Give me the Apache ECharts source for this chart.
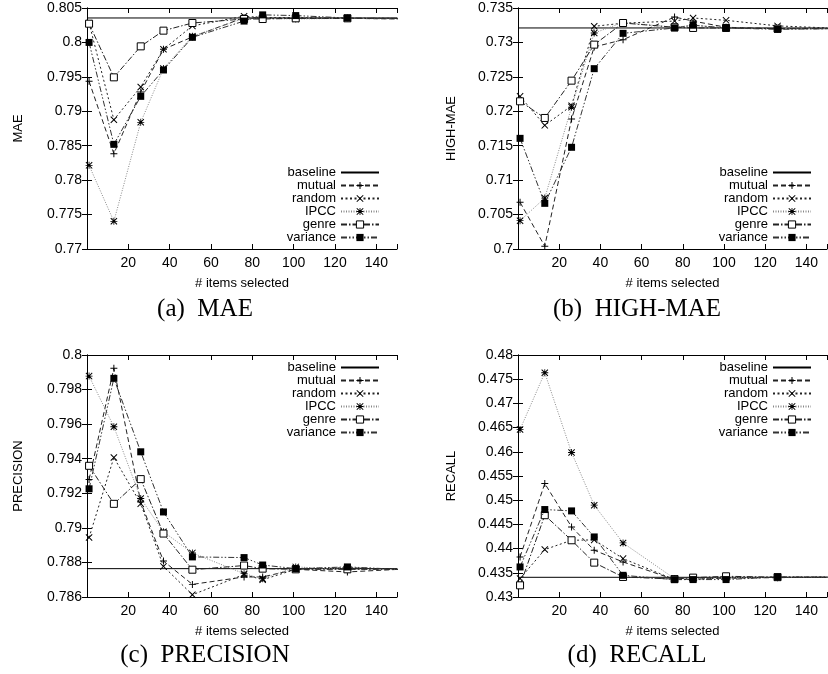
<!DOCTYPE html>
<html>
<head>
<meta charset="utf-8">
<script src="https://cdn.jsdelivr.net/npm/echarts@6/dist/echarts.min.js"></script>
<style>
  html, body { margin: 0; padding: 0; background: #fff; }
  #chart { width: 828px; height: 674px; }
</style>
</head>
<body>
<div id="chart"></div>
<script>
// # items selected (last point lies just past the visible range)
const itemsSelected = [1, 13, 26, 37, 51, 76, 85, 101, 126, 151]
const xTickLabels = [20, 40, 60, 80, 100, 120, 140]
const seriesNames = ['baseline', 'mutual', 'random', 'IPCC', 'genre', 'variance']

// (a) MAE
const maeRange = [0.77, 0.805, 0.005]
const maeBaseline = 0.80355
const maeMutual = [0.79435, 0.78384, 0.7928, 0.7990, 0.8008, 0.8036, 0.8035, 0.8035, 0.8035, 0.8034]
const maeRandom = [0.8028, 0.78878, 0.79353, 0.7990, 0.8024, 0.8038, 0.8036, 0.8036, 0.8035, 0.8035]
const maeIPCC = [0.78215, 0.77402, 0.7884, 0.7962, 0.8009, 0.8035, 0.8035, 0.8034, 0.8035, 0.8034]
const maeGenre = [0.80272, 0.79493, 0.79943, 0.80171, 0.80282, 0.8034, 0.8034, 0.8035, 0.8035, 0.8035]
const maeVariance = [0.8000, 0.7852, 0.79217, 0.7960, 0.80074, 0.8031, 0.8040, 0.8039, 0.80355, 0.8035]

// (b) HIGH-MAE
const highRange = [0.7, 0.735, 0.005]
const highBaseline = 0.7321
const highMutual = [0.70678, 0.7004, 0.71888, 0.72934, 0.7304, 0.73369, 0.7331, 0.7322, 0.7320, 0.7320]
const highRandom = [0.72217, 0.71796, 0.7208, 0.73234, 0.7328, 0.7331, 0.73355, 0.73321, 0.7324, 0.7321]
const highIPCC = [0.70411, 0.7074, 0.7206, 0.73137, 0.7329, 0.7322, 0.7325, 0.7321, 0.7320, 0.7320]
const highGenre = [0.72145, 0.71903, 0.72445, 0.72968, 0.73282, 0.7322, 0.7321, 0.7321, 0.7320, 0.7320]
const highVariance = [0.71607, 0.70663, 0.71477, 0.72619, 0.73132, 0.7321, 0.7325, 0.7321, 0.7319, 0.7320]

// (c) PRECISION
const precRange = [0.786, 0.8, 0.002]
const precBaseline = 0.78764
const precMutual = [0.7928, 0.79923, 0.7915, 0.78808, 0.78673, 0.78716, 0.78716, 0.7876, 0.78745, 0.7876]
const precRandom = [0.78944, 0.79407, 0.7914, 0.78777, 0.78613, 0.7873, 0.7870, 0.7876, 0.7877, 0.7876]
const precIPCC = [0.79878, 0.79585, 0.7917, 0.78977, 0.78855, 0.78735, 0.78706, 0.78774, 0.7876, 0.7876]
const precGenre = [0.79359, 0.79139, 0.79282, 0.78967, 0.78758, 0.78782, 0.78764, 0.7876, 0.7876, 0.7876]
const precVariance = [0.79226, 0.79865, 0.7944, 0.79092, 0.78832, 0.78828, 0.78785, 0.78764, 0.78774, 0.7876]

// (d) RECALL
const recRange = [0.43, 0.48, 0.005]
const recBaseline = 0.43407
const recMutual = [0.43828, 0.45345, 0.44448, 0.43966, 0.43724, 0.4336, 0.4337, 0.4339, 0.4340, 0.4341]
const recRandom = [0.4338, 0.4398, 0.44172, 0.4418, 0.43793, 0.4336, 0.4337, 0.4339, 0.4341, 0.4341]
const recIPCC = [0.46462, 0.47634, 0.45986, 0.44897, 0.44117, 0.4338, 0.4337, 0.4340, 0.4341, 0.4341]
const recGenre = [0.43241, 0.4469, 0.44172, 0.4371, 0.43414, 0.4337, 0.4340, 0.43428, 0.4341, 0.4341]
const recVariance = [0.43621, 0.44807, 0.44779, 0.44241, 0.43448, 0.43359, 0.4336, 0.4336, 0.43414, 0.4341]

const panels = [
  { name: 'MAE', caption: '(a)  MAE', range: maeRange, baseline: maeBaseline,
    values: [maeMutual, maeRandom, maeIPCC, maeGenre, maeVariance] },
  { name: 'HIGH-MAE', caption: '(b)  HIGH-MAE', range: highRange, baseline: highBaseline,
    values: [highMutual, highRandom, highIPCC, highGenre, highVariance] },
  { name: 'PRECISION', caption: '(c)  PRECISION', range: precRange, baseline: precBaseline,
    values: [precMutual, precRandom, precIPCC, precGenre, precVariance] },
  { name: 'RECALL', caption: '(d)  RECALL', range: recRange, baseline: recBaseline,
    values: [recMutual, recRandom, recIPCC, recGenre, recVariance] }
]

// layout of the four plot boxes
const boxes = [
  { left: 87, top: 8, width: 310, height: 241, legendRight: 448, legendTop: 166, capX: 205, capY: 309 },
  { left: 518, top: 8, width: 309, height: 241, legendRight: 16, legendTop: 166, capX: 637, capY: 309 },
  { left: 87, top: 355, width: 310, height: 242, legendRight: 448, legendTop: 361, capX: 205, capY: 655 },
  { left: 518, top: 355, width: 309, height: 242, legendRight: 16, legendTop: 361, capX: 637, capY: 655 }
]

const plusPath = 'path://M0,4.3H10V5.7H0Z M4.3,0H5.7V10H4.3Z'
const crossPath = 'path://M1,0L5,4L9,0L10,1L6,5L10,9L9,10L5,6L1,10L0,9L4,5L0,1Z'
const starPath = 'path://M0,4.4H10V5.6H0Z M4.4,0H5.6V10H4.4Z M1,0L5,4L9,0L10,1L6,5L10,9L9,10L5,6L1,10L0,9L4,5L0,1Z'

const styles = [
  { symbol: plusPath, item: { color: '#000' }, line: { color: '#222', width: 1, type: [5, 3] } },
  { symbol: crossPath, item: { color: '#000' }, line: { color: '#222', width: 1, type: [2, 2.5] } },
  { symbol: starPath, item: { color: '#000' }, line: { color: '#888', width: 1, type: [1, 1.5] } },
  { symbol: 'rect', item: { color: '#fff', borderColor: '#000', borderWidth: 1 }, line: { color: '#222', width: 1, type: [6, 2, 1.5, 2] } },
  { symbol: 'rect', item: { color: '#000' }, line: { color: '#333', width: 1, type: [6, 2, 1.5, 2, 1.5, 2] } }
]

const font = 'Liberation Sans, Arial, sans-serif'
const fmtY = v => String(+Number(v).toFixed(4))

const grid = [], xAxis = [], yAxis = [], series = [], legend = [], graphic = []

panels.forEach((p, i) => {
  const b = boxes[i]
  grid.push({ left: b.left, top: b.top, width: b.width, height: b.height,
    containLabel: false, outerBoundsMode: 'none', show: false })

  const tick = { show: true, inside: true, length: 5, lineStyle: { color: '#000' } }
  const line = { show: true, lineStyle: { color: '#000', width: 1 } }
  xAxis.push({
    type: 'value', gridIndex: i, min: 0, max: 150, interval: 20, position: 'bottom',
    axisLine: line, axisTick: tick, splitLine: { show: false },
    axisLabel: { margin: 7, color: '#000', fontFamily: font, fontSize: 14,
      formatter: v => xTickLabels.includes(v) ? String(v) : '' },
    name: '# items selected', nameLocation: 'middle', nameGap: 28,
    nameTextStyle: { color: '#000', fontFamily: font, fontSize: 13 }
  })
  xAxis.push({
    type: 'value', gridIndex: i, min: 0, max: 150, interval: 20, position: 'top',
    axisLine: line, axisTick: tick, splitLine: { show: false }, axisLabel: { show: false }
  })
  yAxis.push({
    type: 'value', gridIndex: i, min: p.range[0], max: p.range[1], interval: p.range[2], position: 'left',
    axisLine: line, axisTick: tick, splitLine: { show: false },
    axisLabel: { margin: 5, color: '#000', fontFamily: font, fontSize: 14, formatter: fmtY },
    name: p.name, nameLocation: 'middle', nameGap: i % 2 === 0 ? 62 : 60,
    nameTextStyle: { color: '#000', fontFamily: font, fontSize: 13 }
  })
  yAxis.push({
    type: 'value', gridIndex: i, min: p.range[0], max: p.range[1], interval: p.range[2], position: 'right',
    axisLine: line, axisTick: tick, splitLine: { show: false }, axisLabel: { show: false }
  })

  series.push({
    name: 'baseline', type: 'line', xAxisIndex: i * 2, yAxisIndex: i * 2,
    data: [[0, p.baseline], [150, p.baseline]],
    showSymbol: false, symbol: 'circle', symbolSize: 0,
    itemStyle: { color: 'rgba(0,0,0,0)' },
    lineStyle: { color: '#000', width: 1, type: 'solid' },
    animation: false, silent: true
  })
  p.values.forEach((vals, k) => {
    const s = styles[k]
    series.push({
      name: seriesNames[k + 1], type: 'line', xAxisIndex: i * 2, yAxisIndex: i * 2,
      data: itemsSelected.map((x, j) => [x, vals[j]]),
      symbol: s.symbol, symbolSize: 7, clip: true,
      itemStyle: s.item, lineStyle: s.line,
      animation: false, silent: true, z: 3 + k
    })
  })

  legend.push({
    orient: 'vertical', right: b.legendRight, top: b.legendTop, align: 'right',
    itemWidth: 38, itemHeight: 9, itemGap: 0, padding: 0, selectedMode: false,
    data: seriesNames.map(n => n === 'genre' ? { name: n, itemStyle: { borderWidth: 1 } } : n),
    textStyle: { color: '#000', fontFamily: font, fontSize: 13 }
  })

  // sub-figure caption
  graphic.push({
    type: 'text', x: b.capX, y: b.capY, silent: true,
    style: { text: p.caption, align: 'center', verticalAlign: 'middle', fill: '#000',
      font: '25px "Liberation Serif", "DejaVu Serif", serif' }
  })
})

const myChart = echarts.init(document.getElementById('chart'))
myChart.setOption({ animation: false, grid, xAxis, yAxis, legend, series, graphic })
</script>
</body>
</html>
